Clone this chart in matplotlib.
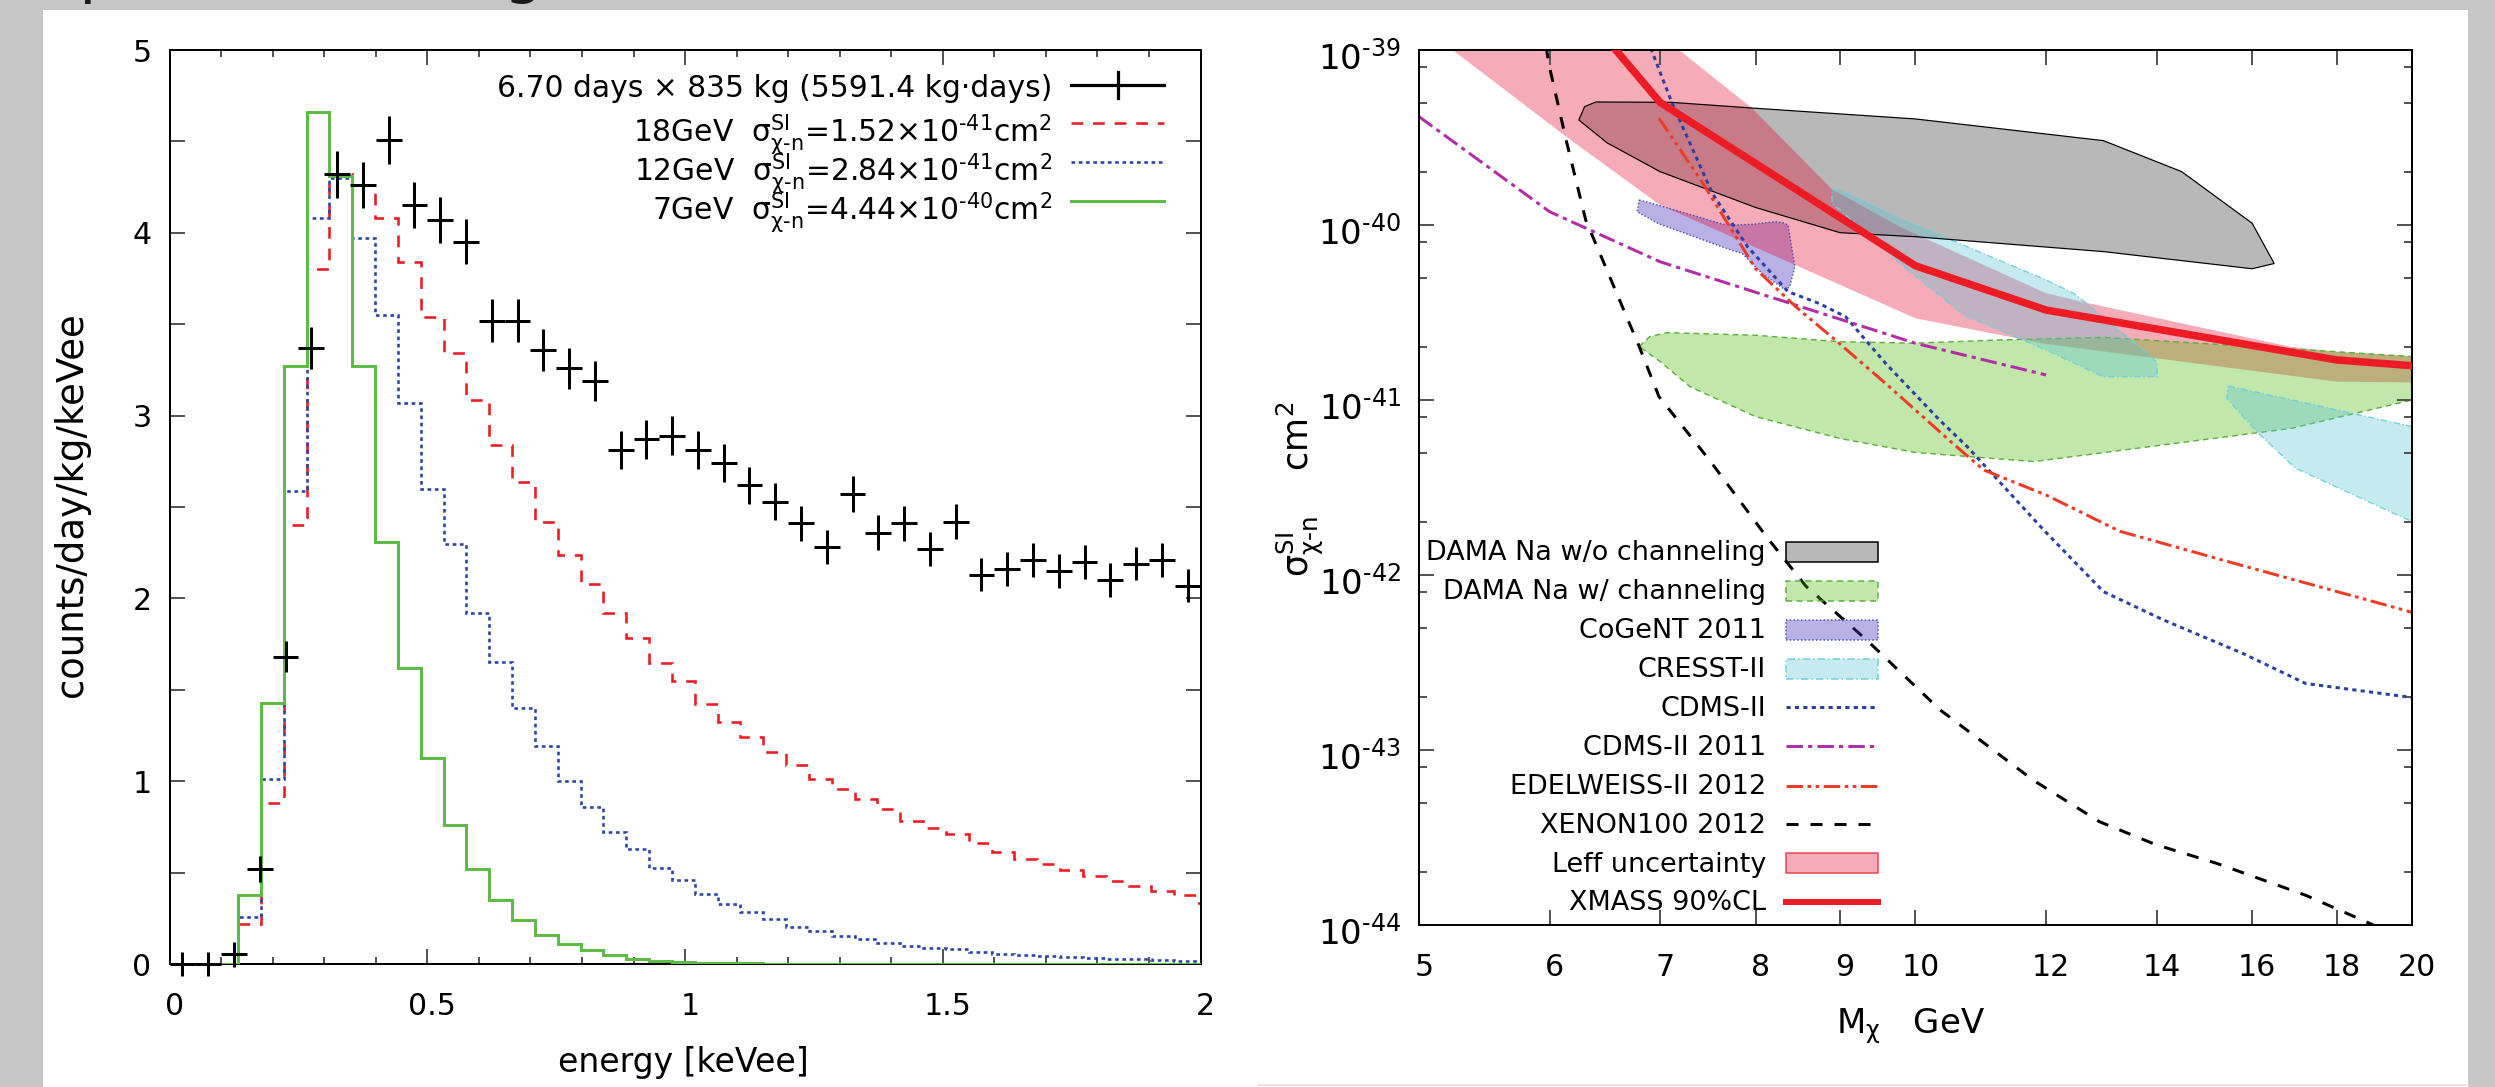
import numpy as np
import matplotlib
matplotlib.use('Agg')
import matplotlib.pyplot as plt
from matplotlib.patches import Rectangle
from matplotlib.lines import Line2D
from matplotlib.ticker import FixedLocator, FixedFormatter, NullLocator
from matplotlib.transforms import ScaledTranslation

W, H, DPI = 2495, 1087, 100
plt.rcParams['font.family'] = ['DejaVu Sans']
plt.rcParams['mathtext.fontset'] = 'dejavusans'


def PT(px):
    return px * 72.0 / DPI


def fx(x):
    return x / W


def fy(y):
    return 1.0 - y / H

# ---------------- left panel data ----------------
bin_edges = [0, 0.0443, 0.0886, 0.1329, 0.1772, 0.2215, 0.2658, 0.3101, 0.3544, 0.3987,
             0.443, 0.4873, 0.5316, 0.5759, 0.6202, 0.6645, 0.7088, 0.7531, 0.7974, 0.8417,
             0.886, 0.9303, 0.9746, 1.0189, 1.0632, 1.1075, 1.1518, 1.1961, 1.2404, 1.2847,
             1.329, 1.3733, 1.4176, 1.4619, 1.5062, 1.5505, 1.5948, 1.6391, 1.6834, 1.7277,
             1.772, 1.8163, 1.8606, 1.9049, 1.9492, 1.9935, 2.0378]
rate_7gev = [0, 0, 0, 0.38, 1.43, 3.27, 4.66, 4.31, 3.27, 2.31, 1.62, 1.125, 0.76, 0.52, 0.35,
             0.24, 0.156, 0.11, 0.074, 0.05, 0.03, 0.019, 0.011, 0.007, 0.004, 0.003, 0.002,
             0.001, 0.001, 0, 0, 0, 0, 0, 0, 0, 0, 0, 0, 0, 0, 0, 0, 0, 0, 0]
rate_12gev = [0, 0, 0, 0.255, 1.01, 2.59, 4.08, 4.30, 3.97, 3.55, 3.07, 2.60, 2.30, 1.92, 1.65,
              1.40, 1.19, 1.00, 0.86, 0.72, 0.63, 0.525, 0.46, 0.383, 0.33, 0.286, 0.245, 0.203,
              0.179, 0.152, 0.138, 0.115, 0.10, 0.09, 0.08, 0.066, 0.056, 0.05, 0.044, 0.04,
              0.035, 0.03, 0.025, 0.022, 0.019, 0.017]
rate_18gev = [0, 0, 0, 0.22, 0.88, 2.40, 3.80, 4.32, 4.26, 4.08, 3.84, 3.54, 3.34, 3.085, 2.84,
              2.635, 2.42, 2.235, 2.08, 1.92, 1.785, 1.645, 1.55, 1.424, 1.326, 1.24, 1.162,
              1.088, 1.013, 0.957, 0.90, 0.848, 0.783, 0.742, 0.711, 0.664, 0.613, 0.576, 0.548,
              0.515, 0.484, 0.453, 0.429, 0.402, 0.377, 0.336]
energy_centers = [0.025, 0.075, 0.125, 0.175, 0.225, 0.275, 0.325, 0.375, 0.425, 0.475,
                  0.525, 0.575, 0.625, 0.675, 0.725, 0.775, 0.825, 0.875, 0.925, 0.975,
                  1.025, 1.075, 1.125, 1.175, 1.225, 1.275, 1.325, 1.375, 1.425, 1.475,
                  1.525, 1.575, 1.625, 1.675, 1.725, 1.775, 1.825, 1.875, 1.925, 1.975]
observed_rate = [0.0, 0.0, 0.054, 0.52, 1.68, 3.37, 4.32, 4.26, 4.51, 4.15,
                 4.07, 3.95, 3.52, 3.52, 3.36, 3.26, 3.19, 2.81, 2.87, 2.89,
                 2.81, 2.74, 2.62, 2.53, 2.41, 2.28, 2.57, 2.36, 2.41, 2.27,
                 2.42, 2.13, 2.16, 2.21, 2.15, 2.20, 2.10, 2.19, 2.21, 2.07]
observed_err = [0.065, 0.065, 0.068, 0.07, 0.085, 0.114, 0.128, 0.127, 0.131, 0.126,
                0.124, 0.123, 0.116, 0.116, 0.114, 0.112, 0.111, 0.104, 0.105, 0.106,
                0.104, 0.103, 0.101, 0.099, 0.097, 0.094, 0.100, 0.096, 0.097, 0.094,
                0.097, 0.091, 0.092, 0.093, 0.092, 0.093, 0.091, 0.092, 0.093, 0.090]
energy_half_width = 0.025

# ---------------- right panel data (mass GeV, log10 sigma cm^2) ----------------
leff_upper_mass = [7.19, 7.96, 8.9, 9.78, 12.0, 12.63, 16.86, 18.0, 20.0]
leff_upper_log = [-39.0, -39.333, -39.796, -40.01, -40.39, -40.44, -40.695, -40.724, -40.749]
leff_lower_mass = [5.24, 6.14, 7.0, 10.0, 12.0, 18.0, 20.0]
leff_lower_log = [-39.0, -39.495, -39.886, -40.533, -40.68, -40.895, -40.90]

dama_wo_mass = [6.30, 6.40, 7.11, 8.0, 10.0, 13.0, 14.5, 16.0, 16.5, 16.0, 13.0, 10.0, 9.0,
                8.0, 7.0, 6.5, 6.25]
dama_wo_log = [-39.324, -39.297, -39.299, -39.333, -39.394, -39.518, -39.695, -39.99, -40.22,
               -40.25, -40.152, -40.067, -40.044, -39.9, -39.695, -39.53, -39.4]

dama_w_mass = [6.80, 6.90, 7.07, 8.0, 9.0, 10.0, 11.25, 13.0, 18.0, 20.0, 20.0, 16.9, 11.8,
               10.0, 9.0, 8.0, 7.3, 7.0]
dama_w_log = [-40.695, -40.638, -40.615, -40.63, -40.667, -40.675, -40.657, -40.642, -40.724,
              -40.752, -41.0, -41.162, -41.352, -41.30, -41.22, -41.095, -40.924, -40.78]

cogent_mass = [6.80, 6.92, 7.46, 7.63, 7.75, 7.96, 8.22, 8.31, 8.37, 8.45, 8.39, 8.34, 8.07,
               7.85, 7.75, 6.99, 6.78]
cogent_log = [-39.857, -39.876, -39.966, -39.994, -40.0, -39.996, -39.981, -39.987, -40.0,
              -40.238, -40.352, -40.371, -40.276, -40.162, -40.147, -39.994, -39.924]

cresst1_mass = [8.90, 9.0, 9.78, 12.0, 12.47, 12.63, 13.82, 14.0, 14.02, 13.0, 12.0, 10.7,
                9.78, 9.5, 8.9]
cresst1_log = [-39.796, -39.80, -39.962, -40.314, -40.39, -40.43, -40.733, -40.78, -40.867,
               -40.867, -40.714, -40.514, -40.219, -40.105, -39.876]
cresst2_mass = [15.48, 20.0, 20.0, 17.0, 16.1, 15.44]
cresst2_log = [-40.92, -41.152, -41.695, -41.39, -41.18, -40.99]

xmass_mass = [6.5, 7.0, 10.0, 12.0, 18.0, 20.0]
xmass_log = [-38.94, -39.299, -40.233, -40.486, -40.771, -40.804]

xenon_mass = [5.97, 6.0, 6.14, 6.31, 6.80, 6.99, 7.50, 8.12, 8.58, 9.34, 10.35, 11.78, 12.93,
              13.98, 15.23, 17.24, 18.95]
xenon_log = [-38.98, -39.10, -39.514, -39.971, -40.695, -40.981, -41.343, -41.78, -42.063,
             -42.371, -42.771, -43.171, -43.41, -43.54, -43.648, -43.83, -44.0]

cdms_mass = [6.91, 7.12, 7.53, 7.91, 8.37, 8.74, 9.07, 9.59, 10.34, 10.75, 11.96, 13.0, 14.13,
             15.8, 17.24, 20.0]
cdms_log = [-38.99, -39.305, -39.819, -40.124, -40.381, -40.448, -40.524, -40.79, -41.114,
            -41.267, -41.743, -42.095, -42.256, -42.449, -42.62, -42.70]

cdms2011_mass = [5.0, 6.0, 7.0, 10.0, 12.0]
cdms2011_log = [-39.381, -39.924, -40.21, -40.676, -40.857]

edelweiss_mass = [6.99, 7.43, 8.0, 8.46, 8.94, 9.59, 10.59, 11.0, 12.0, 13.3, 15.6, 18.8, 20.0]
edelweiss_log = [-39.39, -39.76, -40.25, -40.467, -40.657, -40.905, -41.267, -41.40, -41.543,
                 -41.75, -41.933, -42.143, -42.213]

mass_ticks = [5, 6, 7, 8, 9, 10, 12, 14, 16, 18, 20]
decade_exps = [-44, -43, -42, -41, -40, -39]

# ---------------- colours ----------------
C_RED18 = '#ec1c24'
C_BLUE12 = '#2b44a8'
C_GREEN7 = '#5dbb46'
C_PINK = (230/255, 0/255, 40/255, 0.33)
C_GRAY = (0, 0, 0, 0.28)
C_GREEN = (70/255, 185/255, 0/255, 0.33)
C_PURPLE = (80/255, 60/255, 190/255, 0.40)
C_CYAN = (89/255, 195/255, 212/255, 0.35)
C_CDMS = '#2b3fa5'
C_CDMS11 = '#b42ca8'
C_EDEL = '#ef3b24'
C_XMASS = '#ed1c24'
TICKC = '#555555'

fig = plt.figure(figsize=(W / DPI, H / DPI), dpi=DPI)
fig.patch.set_facecolor('#c5c6c5')
fig.add_artist(Rectangle((fx(43), 0), (2468 - 43) / W, fy(10), transform=fig.transFigure,
                         facecolor='white', edgecolor='none', zorder=-10))
fig.add_artist(Line2D([fx(1258), fx(2468)], [fy(1084.5), fy(1084.5)], transform=fig.transFigure,
                      color='#e4e5e4', lw=PT(2), zorder=-9))
fig.text(fx(40), 1 + 8.6 / H, 'Spectrum fitting', fontsize=PT(62), va='baseline', ha='left',
         color='#1a1a1a')


def shift_labels(labels, dx_px, dy_px):
    for lab in labels:
        lab.set_transform(lab.get_transform() +
                          ScaledTranslation(dx_px / DPI, dy_px / DPI, fig.dpi_scale_trans))

# ================= left panel =================
ax1 = fig.add_axes([fx(169.6), fy(964), (1200.5 - 169.6) / W, (964 - 50) / H])
ax1.set_facecolor('none')
ax1.stairs(rate_18gev, bin_edges, color=C_RED18, lw=PT(2.6), linestyle=(0, (4.5, 3.8)), zorder=2)
ax1.stairs(rate_12gev, bin_edges, color=C_BLUE12, lw=PT(2.6), linestyle=(0, (1.4, 1.4)), zorder=3)
ax1.stairs(rate_7gev, bin_edges, color=C_GREEN7, lw=PT(3), zorder=4)
eb = ax1.errorbar(energy_centers, observed_rate, xerr=energy_half_width, yerr=observed_err,
                  fmt='none', ecolor='black', elinewidth=PT(3), capsize=0, zorder=6)
for c in eb.lines[2]:
    c.set_clip_on(False)
ax1.set_xlim(0, 2)
ax1.set_ylim(0, 5)
ax1.set_xticks([0, 0.5, 1, 1.5, 2])
ax1.set_xticklabels(['0', '0.5', '1', '1.5', '2'])
ax1.set_xticks([v / 10 for v in range(21) if v % 5], minor=True)
ax1.set_yticks([0, 1, 2, 3, 4, 5])
ax1.set_yticks([0.5, 1.5, 2.5, 3.5, 4.5], minor=True)
ax1.tick_params(which='both', direction='in', top=True, right=True, color=TICKC, width=PT(2))
ax1.tick_params(which='major', length=PT(15), labelsize=PT(30))
ax1.tick_params(axis='x', which='minor', length=PT(7))
ax1.tick_params(axis='y', which='minor', length=PT(15))
ax1.tick_params(axis='x', pad=PT(28))
ax1.tick_params(axis='y', pad=PT(18))
for s in ax1.spines.values():
    s.set_linewidth(PT(2))
    s.set_color('black')
shift_labels(ax1.get_xticklabels(), 5, 0)

fig.text(fx(683), fy(1072), 'energy [keVee]', fontsize=PT(33), ha='center', va='baseline')
fig.text(fx(72), fy(505), 'counts/day/kg/keVee', fontsize=PT(37), ha='center', va='center',
         rotation=90)

# left legend
fs_l = PT(29.7)
fig.text(fx(1052), fy(96.7), '6.70 days \u00d7 835 kg (5591.4 kg\u00b7days)', fontsize=fs_l,
         ha='right', va='baseline')
sig_lbl = r'$\mathregular{\sigma^{SI}_{\chi\text{-}n}}$'
rows = [('18GeV  ' + sig_lbl + r'=1.52$\mathregular{\times}$10$^{\mathregular{\text{-}41}}$cm$^{\mathregular{2}}$', 141.7, 123.3,
         dict(color=C_RED18, lw=PT(2.6), linestyle=(0, (4.5, 3.8)))),
        ('12GeV  ' + sig_lbl + r'=2.84$\mathregular{\times}$10$^{\mathregular{\text{-}41}}$cm$^{\mathregular{2}}$', 180.7, 162.3,
         dict(color=C_BLUE12, lw=PT(2.6), linestyle=(0, (1.4, 1.4)))),
        ('7GeV  ' + sig_lbl + r'=4.44$\mathregular{\times}$10$^{\mathregular{\text{-}40}}$cm$^{\mathregular{2}}$', 220.0, 201.0,
         dict(color=C_GREEN7, lw=PT(3)))]
for txt, base, ly, st in rows:
    fig.text(fx(1052), fy(base), txt, fontsize=fs_l, ha='right', va='baseline')
    fig.add_artist(Line2D([fx(1071), fx(1164)], [fy(ly), fy(ly)], transform=fig.transFigure, **st))
fig.add_artist(Line2D([fx(1071), fx(1164)], [fy(84.5), fy(84.5)], transform=fig.transFigure,
                      color='black', lw=PT(3.2)))
fig.add_artist(Line2D([fx(1117.5), fx(1117.5)], [fy(71.7), fy(97.7)], transform=fig.transFigure,
                      color='black', lw=PT(3.2)))

# ================= right panel =================
ax2 = fig.add_axes([fx(1419), fy(925), (2412 - 1419) / W, (925 - 50) / H])
ax2.set_facecolor('none')
ax2.set_xscale('log')
ax2.set_yscale('log')


def sig(vals):
    return [10.0 ** v for v in vals]


ax2.fill(dama_wo_mass, sig(dama_wo_log), facecolor=C_GRAY, edgecolor='none', zorder=1.0)
ax2.fill(cogent_mass, sig(cogent_log), facecolor=C_PURPLE, edgecolor='none', zorder=1.1)
ax2.fill(leff_upper_mass + leff_lower_mass[::-1], sig(leff_upper_log + leff_lower_log[::-1]),
         facecolor=C_PINK, edgecolor='none', zorder=1.2)
ax2.fill(dama_w_mass, sig(dama_w_log), facecolor=C_GREEN, edgecolor='#5aae3a', lw=PT(1.4),
         linestyle=(0, (4, 3)), zorder=1.3)
for mm, ll in ((cresst1_mass, cresst1_log), (cresst2_mass, cresst2_log)):
    ax2.fill(mm, sig(ll), facecolor=C_CYAN, edgecolor='#6fcfe0', lw=PT(1.3),
             linestyle=(0, (5, 2, 1, 2)), zorder=1.4)
# outlines on top of the fills
ax2.fill(dama_wo_mass, sig(dama_wo_log), facecolor='none', edgecolor='black', lw=PT(1.2), zorder=1.5)
ax2.fill(cogent_mass, sig(cogent_log), facecolor='none', edgecolor='#4050b0', lw=PT(1.4),
         linestyle=(0, (1, 1.5)), zorder=1.5)

ax2.plot(xenon_mass, sig(xenon_log), color='black', lw=PT(3), linestyle=(0, (4, 4)), zorder=2)
ax2.plot(cdms_mass, sig(cdms_log), color=C_CDMS, lw=PT(3), linestyle=(0, (1.4, 1.4)), zorder=2.1)
ax2.plot(cdms2011_mass, sig(cdms2011_log), color=C_CDMS11, lw=PT(3),
         linestyle=(0, (5.5, 1.7, 1.4, 1.7)), zorder=2.2)
ax2.plot(edelweiss_mass, sig(edelweiss_log), color=C_EDEL, lw=PT(3),
         linestyle=(0, (5.5, 1.5, 1.2, 1.5, 1.2, 1.5)), zorder=2.3)
ax2.plot(xmass_mass, sig(xmass_log), color=C_XMASS, lw=PT(7.5), solid_joinstyle='miter', zorder=3)

ax2.set_xlim(5, 20)
ax2.set_ylim(1e-44, 1e-39)
ax2.xaxis.set_major_locator(FixedLocator(mass_ticks))
ax2.xaxis.set_major_formatter(FixedFormatter([str(m) for m in mass_ticks]))
ax2.xaxis.set_minor_locator(NullLocator())
ax2.yaxis.set_major_locator(FixedLocator([10.0 ** e for e in decade_exps]))
ax2.yaxis.set_major_formatter(FixedFormatter(
    [r'$\mathregular{10^{\text{-}%d}}$' % (-e) for e in decade_exps]))
ax2.yaxis.set_minor_locator(FixedLocator([k * 10.0 ** e for e in decade_exps[:-1] for k in (2, 5, 8)]))
ax2.tick_params(which='both', direction='in', top=True, right=True, color=TICKC, width=PT(2))
ax2.tick_params(which='major', length=PT(15))
ax2.tick_params(which='minor', length=PT(8), labelleft=False)
ax2.tick_params(axis='x', labelsize=PT(30), pad=PT(28))
ax2.tick_params(axis='y', labelsize=PT(34), pad=PT(18))
for s in ax2.spines.values():
    s.set_linewidth(PT(2))
    s.set_color('black')
shift_labels(ax2.get_xticklabels(), 5, 0)
shift_labels(ax2.get_yticklabels(), 0, -5)

fig.text(fx(1911), fy(1033.5), r'M$_{\mathregular{\chi}}$   GeV', fontsize=PT(34), ha='center', va='baseline')
fig.text(fx(1300), fy(489), r'$\mathregular{\sigma^{SI}_{\chi\text{-}n}}$    cm$^{\mathregular{2}}$',
         fontsize=PT(35), ha='center', va='center', rotation=90)

# right legend
fs_r = PT(27)
leg_rows = [
    ('DAMA Na w/o channeling', 551.7, 'box', dict(facecolor=C_GRAY, edgecolor='black', lw=PT(1.5))),
    ('DAMA Na w/ channeling', 590.6, 'box', dict(facecolor=C_GREEN, edgecolor='#5aae3a', lw=PT(1.5), linestyle=(0, (4, 3)))),
    ('CoGeNT 2011', 629.5, 'box', dict(facecolor=C_PURPLE, edgecolor='#4050b0', lw=PT(1.5), linestyle=(0, (1, 1.5)))),
    ('CRESST-II', 668.5, 'box', dict(facecolor=C_CYAN, edgecolor='#6fcfe0', lw=PT(1.5), linestyle=(0, (5, 2, 1, 2)))),
    ('CDMS-II', 707.0, 'line', dict(color=C_CDMS, lw=PT(3), linestyle=(0, (1.4, 1.4)))),
    ('CDMS-II 2011', 746.3, 'line', dict(color=C_CDMS11, lw=PT(3), linestyle=(0, (5.5, 1.7, 1.4, 1.7)))),
    ('EDELWEISS-II 2012', 785.7, 'line', dict(color=C_EDEL, lw=PT(3), linestyle=(0, (5.5, 1.5, 1.2, 1.5, 1.2, 1.5)))),
    ('XENON100 2012', 824.2, 'line', dict(color='black', lw=PT(3), linestyle=(0, (4, 4)))),
    ('Leff uncertainty', 863.2, 'box', dict(facecolor=C_PINK, edgecolor='#ee4455', lw=PT(1.5))),
    ('XMASS 90%CL', 901.7, 'line', dict(color=C_XMASS, lw=PT(6))),
]
for txt, yc, kind, st in leg_rows:
    fig.text(fx(1766), fy(yc + 8.5), txt, fontsize=fs_r, ha='right', va='baseline')
    if kind == 'box':
        fig.add_artist(Rectangle((fx(1786), fy(yc + 10)), 92 / W, 20 / H,
                                 transform=fig.transFigure, **st))
    else:
        fig.add_artist(Line2D([fx(1786), fx(1878)], [fy(yc), fy(yc)],
                              transform=fig.transFigure, **st))

fig.savefig('out.png', dpi=DPI, facecolor=fig.get_facecolor())
